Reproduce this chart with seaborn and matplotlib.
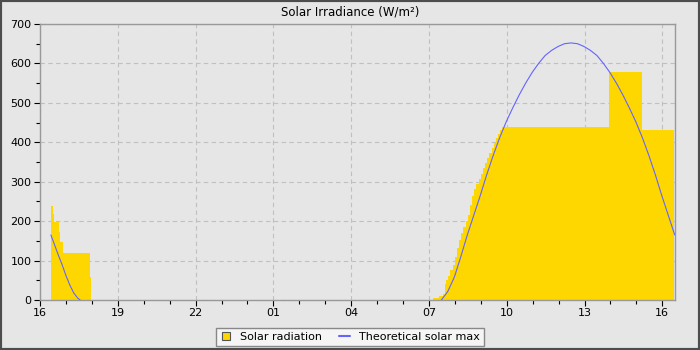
import numpy as np
import pandas as pd
import matplotlib
matplotlib.use("Agg")
import matplotlib.pyplot as plt
from matplotlib.ticker import MultipleLocator, FuncFormatter
from matplotlib.lines import Line2D
from matplotlib.patches import Rectangle
import seaborn as sns

# ---- data (hours since 00:00 of day 1; values > 24 are next day) ----
rad_hours = [16.42, 16.51, 16.55, 16.74, 16.78, 16.90, 17.93, 17.97,
             31.17, 31.37, 31.53, 31.62, 31.67, 31.75, 31.83, 31.92, 32.00,
             32.08, 32.17, 32.25, 32.33, 32.42, 32.50, 32.58, 32.67, 32.75,
             32.83, 32.92, 33.00, 33.08, 33.17, 33.25, 33.33, 33.42, 33.50,
             33.58, 33.67, 33.75, 33.80, 37.96, 39.21, 40.45]
rad_values = [239, 218, 199, 173, 148, 120, 58, 0,
              6, 11, 15, 41, 50, 62, 75, 90, 110,
              132, 152, 170, 185, 200, 215, 240, 265, 282,
              295, 308, 320, 335, 348, 360, 373, 386, 398,
              410, 422, 432, 438, 579, 431, 431]

max_hours_d1 = [16.42, 16.55, 16.70, 16.85, 17.00, 17.15, 17.30, 17.45, 17.55]
max_values_d1 = [165, 142, 115, 90, 62, 38, 18, 5, 0]
max_hours_d2 = [31.48, 31.73, 31.98, 32.23, 32.48, 32.73, 32.98, 33.23, 33.48,
                33.73, 33.98, 34.23, 34.48, 34.73, 34.98, 35.23, 35.48, 35.73,
                35.98, 36.23, 36.48, 36.73, 36.98, 37.23, 37.48, 37.73, 37.98,
                38.23, 38.48, 38.73, 38.98, 39.23, 39.48, 39.73, 39.98, 40.23,
                40.48]
max_values_d2 = [0, 22, 58, 110, 165, 215, 265, 318, 367,
                 412, 452, 487, 520, 550, 577, 600, 620, 633,
                 643, 650, 652, 650, 643, 633, 620, 600, 577,
                 550, 520, 487, 452, 412, 367, 318, 265, 215,
                 165]

title = "Solar Irradiance (W/m²)"
series_names = ["Solar radiation", "Theoretical solar max"]

# ---- style ----
bg = "#e6e6e6"
sns.set_style("white")
plt.rcParams["font.family"] = ["DejaVu Sans"]

fig = plt.figure(figsize=(7, 3.5), dpi=100, facecolor=bg)
ax = fig.add_axes([40 / 700, 50 / 350, 635 / 700, 276 / 350])
ax.set_facecolor(bg)

df_max = pd.DataFrame({
    "hour": max_hours_d1 + max_hours_d2,
    "value": max_values_d1 + max_values_d2,
    "seg": [1] * len(max_hours_d1) + [2] * len(max_hours_d2),
})

ax.fill_between(rad_hours, rad_values, 0, step="post", color="#FFD700",
                linewidth=0, zorder=2)
sns.lineplot(data=df_max, x="hour", y="value", units="seg", estimator=None,
             color="#6464ff", linewidth=0.8, ax=ax, zorder=3, legend=False)

ax.set_xlim(16, 40.49)
ax.set_ylim(0, 700)
ax.xaxis.set_major_locator(MultipleLocator(3, offset=1))
ax.xaxis.set_minor_locator(MultipleLocator(1))
ax.yaxis.set_major_locator(MultipleLocator(100))
ax.yaxis.set_minor_locator(MultipleLocator(50))
ax.xaxis.set_major_formatter(FuncFormatter(lambda v, p: f"{int(round(v)) % 24:02d}"))
ax.set_xlabel("")
ax.set_ylabel("")

ax.grid(True, which="major", color="#c0c0c0", linestyle=(0, (4, 3)), linewidth=0.8, zorder=1)
ax.set_axisbelow(True)
for s in ax.spines.values():
    s.set_color("#999999")
    s.set_linewidth(1.0)
ax.tick_params(which="major", direction="out", length=4, width=0.8, color="black",
               labelsize=8, labelcolor="black", pad=2, bottom=True, left=True)
ax.tick_params(which="minor", direction="out", length=3, width=0.8, color="black",
               bottom=True, left=True)

fig.text(0.5, 1 - 12 / 350, title, ha="center", va="center", fontsize=8.5, color="black")

handles = [
    Line2D([], [], linestyle="none", marker="s", markersize=6,
           markerfacecolor="#FFD700", markeredgecolor="#555555", markeredgewidth=0.8),
    Line2D([], [], color="#6464ff", linewidth=1.5),
]
leg = fig.legend(handles, series_names, loc="center", bbox_to_anchor=(350 / 700, 1 - 337 / 350),
                 ncol=2, fontsize=8, frameon=True, fancybox=False, framealpha=1,
                 handlelength=1.0, handletextpad=0.8, columnspacing=1.5,
                 borderpad=0.35)
for t in leg.get_texts():
    t.set_color("black")
leg.get_frame().set_facecolor("#f5f5f5")
leg.get_frame().set_edgecolor("#888888")
leg.get_frame().set_linewidth(1.0)

fig.patches.append(Rectangle((0, 0), 1, 1, transform=fig.transFigure, fill=False,
                             edgecolor="#4d4d4d", linewidth=3, zorder=10))

fig.savefig("out.png", dpi=100, facecolor=bg)
